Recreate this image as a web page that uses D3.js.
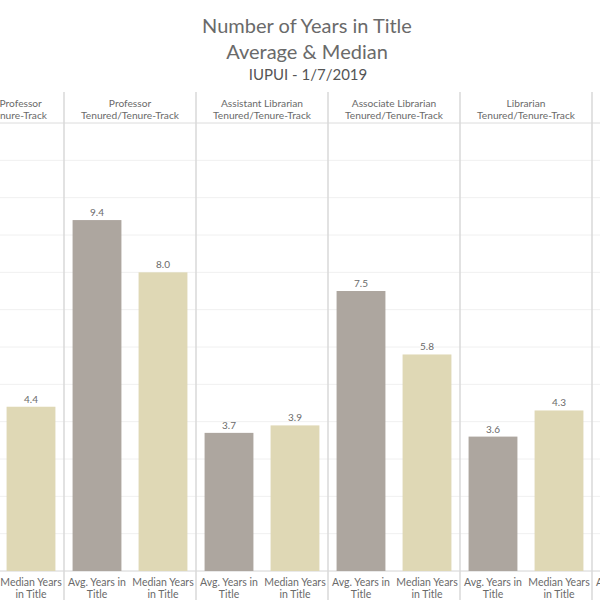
<!DOCTYPE html>
<html><head><meta charset="utf-8">
<script src="https://cdn.jsdelivr.net/npm/d3@7"></script>
<style>body{margin:0;background:#fff}svg{display:block}text{font-family:Lato,"Noto Sans",sans-serif}</style>
</head><body><svg id="c" width="600" height="600"></svg>
<script>
const titleLines = ["Number of Years in Title", "Average & Median"];
const subtitle = "IUPUI - 1/7/2019";
const panelNames = ["Associate Professor", "Professor", "Assistant Librarian", "Associate Librarian", "Librarian", "Clinical Librarian"];
const panelSub = "Tenured/Tenure-Track";
const measures = ["Avg. Years in Title", "Median Years in Title"];
const measureLines = [["Avg. Years in", "Title"], ["Median Years", "in Title"]];
const avgYears = [null, 9.4, 3.7, 7.5, 3.6, null];
const medianYears = [4.4, 8.0, 3.9, 5.8, 4.3, null];
const yTickValues = [1, 2, 3, 4, 5, 6, 7, 8, 9, 10, 11];

const svg = d3.select("#c");
const headTop = 92, headBottom = 123, plotBottom = 571;
const gray = "#6a6a6a";
const colors = {"Avg. Years in Title": "#ada69f", "Median Years in Title": "#dfd8b5"};

const px = d3.scaleBand().domain(panelNames).range([-68, 724]).paddingInner(0).paddingOuter(0);
const mx = d3.scaleBand().domain(measures).range([0, px.bandwidth()]).paddingInner(0.26).paddingOuter(0.13);
const y = d3.scaleLinear().domain([0, 12]).range([plotBottom, headBottom]);

svg.append("g").selectAll("line").data(yTickValues).join("line")
  .attr("x1", 0).attr("x2", 600).attr("y1", d => y(d)).attr("y2", d => y(d))
  .attr("stroke", "#f0f0f0").attr("stroke-width", 1);

svg.append("line").attr("x1", 0).attr("x2", 600).attr("y1", headBottom).attr("y2", headBottom)
  .attr("stroke", "#dcdcdc").attr("stroke-width", 1);
svg.append("line").attr("x1", 0).attr("x2", 600).attr("y1", y(0)).attr("y2", y(0))
  .attr("stroke", "#d4d4d4").attr("stroke-width", 1);

svg.append("g").selectAll("text").data(titleLines).join("text")
  .attr("x", 307).attr("y", (d, i) => 33 + i * 26).attr("text-anchor", "middle")
  .attr("font-size", 20).attr("fill", gray).text(d => d);
svg.append("text").attr("x", 308).attr("y", 80).attr("text-anchor", "middle")
  .attr("font-size", 15).attr("fill", "#555").text(subtitle);

const rows = panelNames.map((p, i) => ({panel: p, values: [avgYears[i], medianYears[i]]}));

const pg = svg.append("g").selectAll("g").data(rows).join("g")
  .attr("transform", d => `translate(${px(d.panel)},0)`);

pg.append("text").attr("x", px.bandwidth() / 2).attr("y", 107).attr("text-anchor", "middle")
  .attr("font-size", 10.2).attr("fill", gray).text(d => d.panel);
pg.append("text").attr("x", px.bandwidth() / 2).attr("y", 119).attr("text-anchor", "middle")
  .attr("font-size", 10.2).attr("fill", gray).text(panelSub);

pg.each(function(d) {
  const g = d3.select(this);
  const items = measures.map((m, j) => ({m, v: d.values[j]})).filter(e => e.v != null);
  g.selectAll("rect").data(items).join("rect")
    .attr("x", e => mx(e.m)).attr("width", mx.bandwidth())
    .attr("y", e => y(e.v)).attr("height", e => y(0) - y(e.v))
    .attr("fill", e => colors[e.m]);
  g.selectAll("text.val").data(items).join("text").attr("class", "val")
    .attr("x", e => mx(e.m) + mx.bandwidth() / 2).attr("y", e => y(e.v) - 4)
    .attr("text-anchor", "middle").attr("font-size", 10).attr("fill", gray)
    .text(e => d3.format(".1f")(e.v));
  measures.forEach((m, j) => {
    const t = g.append("text").attr("text-anchor", "middle").attr("font-size", 10.5).attr("fill", gray);
    measureLines[j].forEach((ln, k) => {
      t.append("tspan").attr("x", mx(m) + mx.bandwidth() / 2).attr("y", 585.5 + k * 12).text(ln);
    });
  });
});

svg.append("g").selectAll("line").data(panelNames.slice(1)).join("line")
  .attr("x1", d => px(d)).attr("x2", d => px(d)).attr("y1", headTop).attr("y2", 600)
  .attr("stroke", "#d9d9d9").attr("stroke-width", 1.5);
</script></body></html>
